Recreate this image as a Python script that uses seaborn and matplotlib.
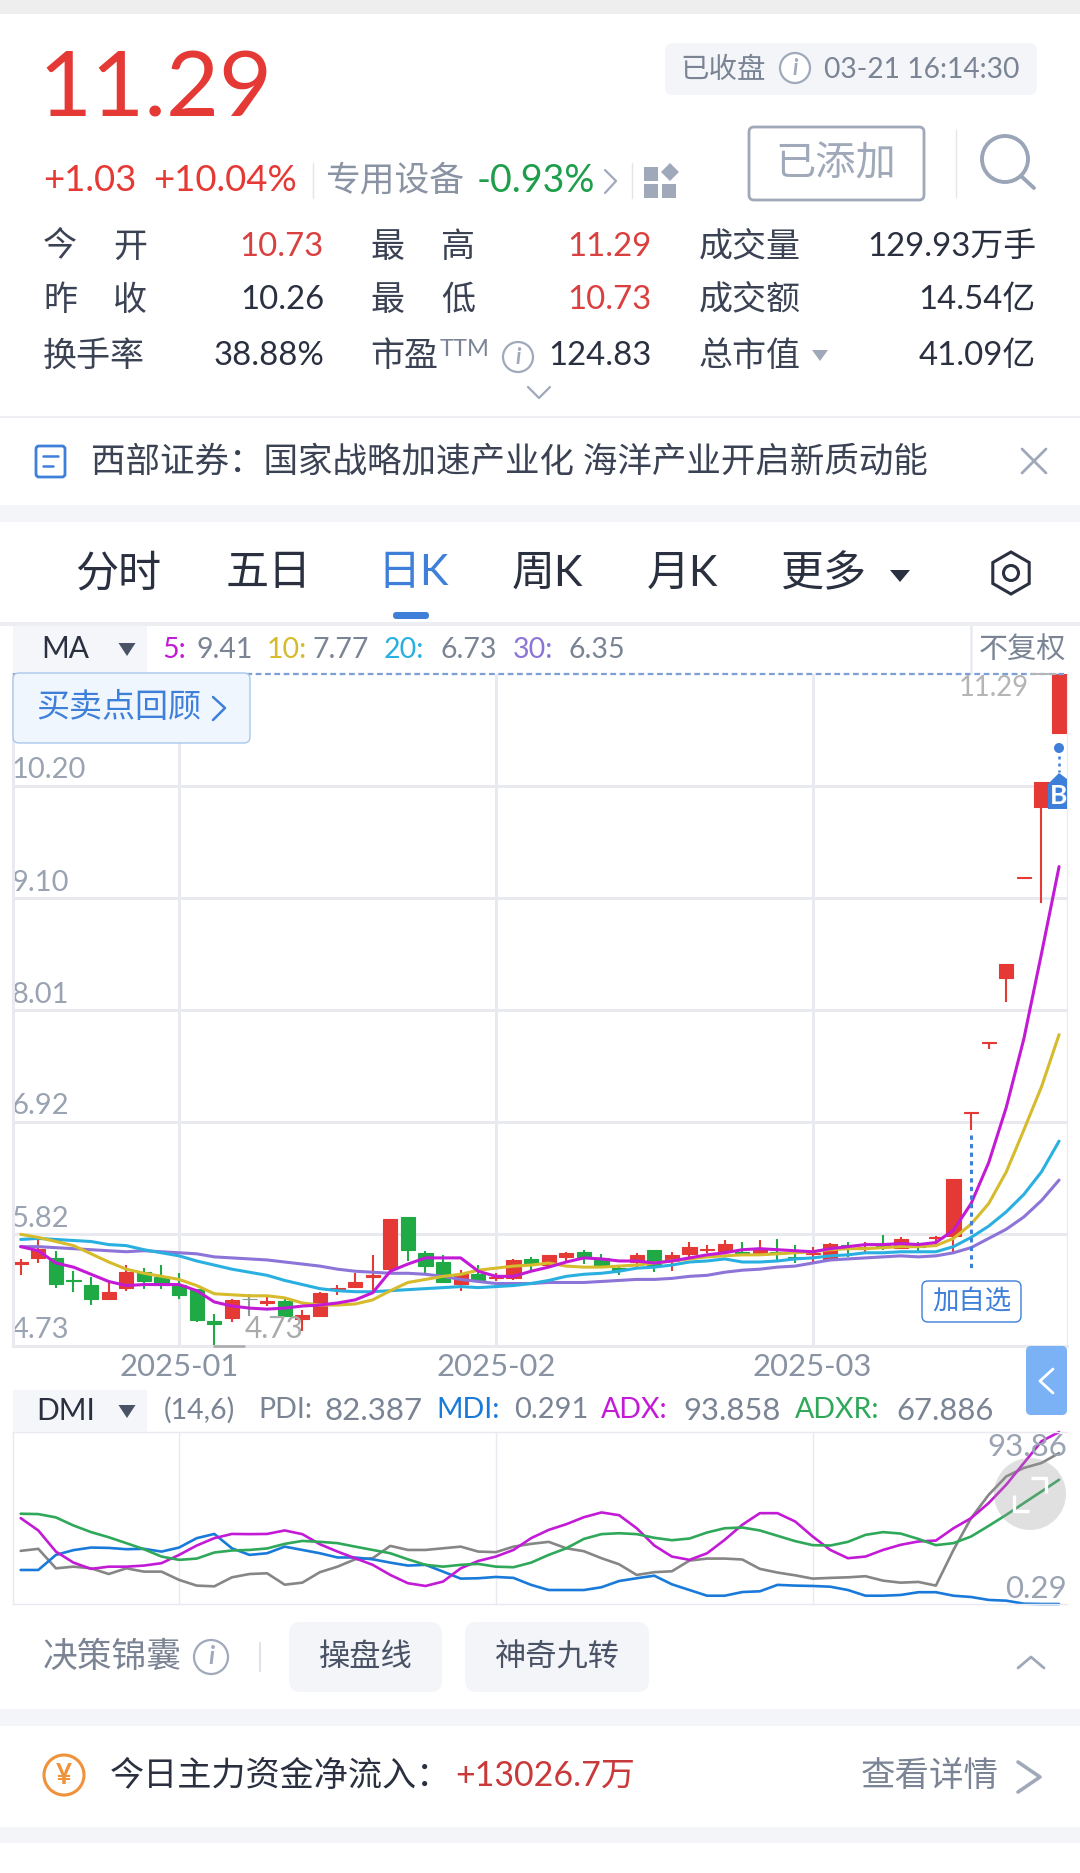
import numpy as np
import pandas as pd
import seaborn as sns
import matplotlib
matplotlib.use("Agg")
import matplotlib.pyplot as plt
from matplotlib.patches import Rectangle, FancyBboxPatch, Polygon, Circle
from matplotlib.transforms import ScaledTranslation

sns.set_theme(style="white")
FONTS = ['Lato', 'Noto Sans CJK SC', 'DejaVu Sans']
plt.rcParams['font.family'] = FONTS

# ---------- data ----------
opens = [5.53,5.59,5.59,5.37,5.33,5.19,5.30,5.45,5.40,5.33,5.29,4.97,5.00,5.19,5.15,5.17,4.99,5.02,5.29,5.31,
         5.40,5.48,5.99,5.64,5.55,5.34,5.43,5.39,5.39,5.58,5.52,5.60,5.65,5.59,5.49,5.55,5.67,5.56,5.63,5.67,
         5.66,5.65,5.63,5.65,5.60,5.63,5.57,5.72,5.69,5.72,5.69,5.71,5.78,5.80,7.00,7.69,8.32,9.30,9.99,10.71]
closes = [5.55,5.68,5.34,5.36,5.19,5.26,5.45,5.36,5.33,5.23,4.98,4.94,5.18,5.19,5.17,5.02,5.03,5.25,5.30,5.35,
          5.42,5.97,5.67,5.51,5.35,5.43,5.37,5.40,5.57,5.53,5.62,5.64,5.60,5.51,5.47,5.62,5.51,5.62,5.70,5.68,
          5.73,5.63,5.67,5.64,5.59,5.64,5.73,5.71,5.70,5.70,5.77,5.70,5.79,6.36,7.01,7.70,8.46,9.31,10.24,11.29]
highs = [5.58,5.76,5.66,5.46,5.40,5.36,5.52,5.49,5.52,5.44,5.29,5.04,5.19,5.24,5.21,5.19,5.08,5.26,5.33,5.44,
         5.62,5.97,5.99,5.66,5.62,5.47,5.52,5.44,5.58,5.60,5.62,5.65,5.67,5.63,5.51,5.64,5.67,5.65,5.75,5.72,
         5.76,5.75,5.76,5.77,5.72,5.70,5.74,5.75,5.75,5.81,5.79,5.75,5.80,6.36,7.01,7.70,8.46,9.31,10.24,11.29]
lows = [5.42,5.54,5.30,5.26,5.13,5.18,5.27,5.29,5.29,5.19,4.96,4.73,4.96,5.02,5.12,5.01,4.88,5.02,5.23,5.30,
        5.27,5.48,5.56,5.44,5.35,5.27,5.37,5.36,5.37,5.47,5.50,5.56,5.53,5.51,5.42,5.50,5.45,5.46,5.60,5.64,
        5.65,5.61,5.63,5.57,5.54,5.55,5.57,5.60,5.65,5.67,5.68,5.65,5.71,5.65,6.84,7.63,8.09,9.30,9.05,10.71]
ma5 = [5.70,5.66,5.54,5.50,5.43,5.36,5.32,5.33,5.33,5.33,5.27,5.16,5.12,5.10,5.09,5.10,5.12,5.13,5.15,5.18,
       5.25,5.46,5.53,5.59,5.59,5.59,5.46,5.41,5.41,5.46,5.50,5.55,5.59,5.58,5.56,5.56,5.54,5.56,5.59,5.62,
       5.64,5.67,5.68,5.67,5.66,5.65,5.68,5.70,5.72,5.72,5.73,5.72,5.74,5.86,6.12,6.52,7.06,7.73,8.56,9.41]
ma10 = [5.82,5.79,5.75,5.71,5.63,5.55,5.48,5.44,5.41,5.38,5.32,5.24,5.23,5.22,5.22,5.20,5.15,5.13,5.13,5.14,
        5.18,5.27,5.35,5.38,5.41,5.43,5.47,5.49,5.51,5.52,5.54,5.51,5.50,5.50,5.51,5.52,5.54,5.56,5.58,5.60,
        5.61,5.62,5.62,5.63,5.64,5.65,5.67,5.68,5.68,5.69,5.70,5.70,5.71,5.78,5.92,6.12,6.43,6.84,7.26,7.77]
ma20 = [5.77,5.78,5.77,5.76,5.75,5.72,5.71,5.67,5.64,5.61,5.56,5.52,5.48,5.45,5.42,5.37,5.33,5.29,5.27,5.26,
        5.26,5.27,5.28,5.29,5.30,5.31,5.30,5.31,5.32,5.34,5.37,5.41,5.43,5.44,5.46,5.49,5.50,5.52,5.55,5.56,
        5.58,5.55,5.55,5.56,5.58,5.59,5.61,5.62,5.64,5.64,5.65,5.65,5.65,5.70,5.79,5.90,6.04,6.21,6.43,6.73]
ma30 = [5.70,5.70,5.69,5.68,5.67,5.66,5.65,5.66,5.65,5.64,5.63,5.60,5.59,5.58,5.57,5.55,5.53,5.51,5.48,5.46,
        5.45,5.44,5.44,5.43,5.41,5.38,5.36,5.34,5.34,5.34,5.35,5.35,5.35,5.36,5.37,5.38,5.38,5.39,5.41,5.42,
        5.45,5.47,5.48,5.50,5.51,5.54,5.57,5.58,5.59,5.60,5.61,5.60,5.61,5.64,5.69,5.78,5.87,5.99,6.15,6.35]
pdi = [29.2,30.3,19.7,20.6,19.7,16.6,19.7,17.9,17.9,13.4,10.3,9.9,14.8,16.6,17.0,10.8,11.9,17.6,20.6,24.6,
       25.2,31.9,29.7,29.7,30.6,31.5,28.8,28.5,31.5,33.0,34.1,30.6,29.0,25.2,21.9,16.1,17.6,18.1,23.9,25.0,
       25.0,24.5,19.4,17.4,15.9,14.1,14.5,14.8,15.4,13.0,11.9,12.3,10.3,29.7,47.0,59.7,69.7,74.3,77.0,82.387]
mdi = [18.8,18.8,27.0,29.6,31.0,30.8,30.1,30.3,28.8,31.0,36.1,38.4,30.6,27.0,27.9,31.5,29.7,27.9,25.6,25.6,
       24.6,22.8,21.2,21.6,17.9,14.1,14.3,15.0,14.5,10.7,7.9,7.9,7.9,9.4,12.8,14.3,15.7,11.0,7.9,4.8,
       4.8,6.8,7.2,10.7,10.3,10.1,9.7,7.9,4.8,4.8,5.2,6.7,6.7,4.8,4.1,2.5,2.1,0.47,0.29,0.291]
adx = [47.0,40.3,28.8,22.8,19.4,20.6,20.6,21.2,22.5,27.0,32.1,36.1,38.4,38.3,38.4,40.3,38.3,32.8,28.8,25.2,
       21.6,16.1,11.6,10.1,12.5,19.7,23.7,26.1,29.7,36.1,40.6,43.7,47.5,50.1,48.6,41.5,32.1,26.1,24.3,27.9,
       35.2,43.4,49.7,49.7,45.2,37.0,29.7,25.2,26.1,29.7,32.5,34.3,34.8,41.5,47.0,55.2,65.2,77.0,88.8,93.858]
adxr = [49.4,49.2,47.4,43.0,39.4,36.6,33.4,30.1,26.1,24.3,25.0,28.3,29.4,29.7,30.5,33.0,34.6,34.1,33.4,31.5,
        29.7,27.9,24.6,21.6,20.6,21.6,22.1,20.6,20.3,22.8,27.0,30.6,35.7,38.3,38.8,38.3,36.3,35.0,35.9,39.2,
        41.5,41.9,40.3,37.4,34.5,32.3,32.1,34.1,37.9,39.4,38.6,35.7,32.3,33.4,37.0,42.8,48.8,55.2,61.5,67.886]
price_ticks = [4.73, 5.82, 6.92, 8.01, 9.10, 10.20]
price_labels = ['4.73', '5.82', '6.92', '8.01', '9.10', '10.20']
month_idx = [9, 27, 45]
month_labels = ['2025-01', '2025-02', '2025-03']

RED, GREEN, FLAT = '#e53935', '#1faa45', '#8f9a94'
MAG, YEL, CYA, PUR = '#c31ad6', '#d6bb2c', '#2ab0e0', '#8c74d8'
BLUE = '#3d7fd9'
DARK, LABEL, GREY, LGREY, GRID = '#2a3040', '#3a4254', '#7a8494', '#a0a9ba', '#e8eaf0'

W, H = 1080, 1873
fig = plt.figure(figsize=(W / 100, H / 100), dpi=100, facecolor='white')

def px_axes(l, t, r, b):
    return fig.add_axes([l / W, 1 - b / H, (r - l) / W, (b - t) / H])

XLIM = (-0.4375, 59.45)

# ---------- candlestick panel ----------
ax = px_axes(13, 674, 1067, 1346)
ax.set_xlim(*XLIM)
ax.set_ylim(4.73, 11.29)
ax.set_xticks(month_idx)
ax.set_xticklabels(month_labels, fontsize=22.3, color='#8a93a3')
ax.set_yticks(price_ticks)
ax.set_yticklabels(price_labels, fontsize=21, color='#9aa3b2')
ax.tick_params(axis='x', length=0, pad=5)
ax.tick_params(axis='y', length=0, pad=0)
lift = ScaledTranslation(-1 / 72, 1.8 / 72, fig.dpi_scale_trans)
for lab in ax.get_yticklabels():
    lab.set_ha('left')
    lab.set_va('bottom')
    lab.set_transform(lab.get_transform() + lift)
ax.grid(True, color=GRID, lw=2.1)
ax.set_axisbelow(True)
for name, sp in ax.spines.items():
    sp.set_color(GRID)
    sp.set_linewidth(2.1 if name in ('left', 'bottom') else 0.8)
ax.spines['top'].set_visible(False)

idx = np.arange(len(opens))
o, c, h, l = map(np.array, (opens, closes, highs, lows))
cols = [RED if cc > oo else (GREEN if cc < oo else FLAT) for oo, cc in zip(o, c)]
ax.vlines(idx, l, h, colors=cols, lw=1.5, zorder=2)
ax.bar(idx, np.abs(c - o), bottom=np.minimum(o, c), width=0.8, color=cols,
       edgecolor=cols, linewidth=0.8, zorder=2.1)

ma_df = pd.DataFrame({'idx': idx, 'MA5': ma5, 'MA10': ma10, 'MA20': ma20, 'MA30': ma30}).melt(
    id_vars='idx', var_name='line', value_name='value')
sns.lineplot(data=ma_df, x='idx', y='value', hue='line', estimator=None, sort=False, legend=False,
             hue_order=['MA30', 'MA20', 'MA10', 'MA5'],
             palette={'MA5': MAG, 'MA10': YEL, 'MA20': CYA, 'MA30': PUR}, lw=2.2, ax=ax, zorder=3)
ax.set_xlabel('')
ax.set_ylabel('')
ax.axhline(11.29, color='#7d9fd8', lw=1.6, ls=(0, (2.6, 1.6)), zorder=4, clip_on=False)

# ---------- DMI panel ----------
ax2 = px_axes(13, 1432, 1067, 1604)
ax2.set_xlim(*XLIM)
ax2.set_ylim(0.29, 93.86)
ax2.set_xticks(month_idx)
ax2.set_yticks([])
ax2.tick_params(axis='x', length=0, labelbottom=False)
ax2.grid(True, axis='x', color=GRID, lw=1)
ax2.set_axisbelow(True)
for name, sp in ax2.spines.items():
    sp.set_color(GRID)
    sp.set_linewidth(1)
ax2.spines['right'].set_visible(False)
dmi_df = pd.DataFrame({'idx': idx, 'PDI': pdi, 'MDI': mdi, 'ADX': adx, 'ADXR': adxr}).melt(
    id_vars='idx', var_name='line', value_name='value')
sns.lineplot(data=dmi_df, x='idx', y='value', hue='line', estimator=None, sort=False, legend=False,
             hue_order=['PDI', 'MDI', 'ADX', 'ADXR'],
             palette={'PDI': '#868686', 'MDI': '#1a7ad9', 'ADX': '#c31ad6', 'ADXR': '#2fa85a'},
             lw=1.9, ax=ax2, clip_on=False)
ax2.set_xlabel('')
ax2.set_ylabel('')

# ---------- page furniture, in pixel coordinates ----------
ui = fig.add_axes([0, 0, 1, 1], zorder=10)
ui.set_xlim(0, W)
ui.set_ylim(H, 0)
ui.axis('off')
ui.patch.set_alpha(0)

def T(x, y, s, size=24.5, color=LABEL, ha='left', **kw):
    return ui.text(x, y + 2.5, s, fontsize=size, color=color, ha=ha, va='center', family=FONTS, **kw)

def rect(x0, y0, x1, y1, fc, **kw):
    ui.add_patch(Rectangle((x0, y0), x1 - x0, y1 - y0, fc=fc, ec='none', **kw))

def rrect(x0, y0, x1, y1, r, fc='none', ec='none', lw=0, **kw):
    ui.add_patch(FancyBboxPatch((x0, y0), x1 - x0, y1 - y0, boxstyle=f'round,pad=0,rounding_size={r}',
                                fc=fc, ec=ec, lw=lw, **kw))

def line(xs, ys, color=LGREY, lw=2.0, **kw):
    ui.plot(xs, ys, color=color, lw=lw, solid_capstyle=kw.pop('cap', 'round'), solid_joinstyle='round', **kw)

def tri(cx, top, bot, hw, color):
    ui.add_patch(Polygon([(cx - hw, top), (cx + hw, top), (cx, bot)], closed=True, fc=color, ec='none'))

def info(cx, cy, r, color=LGREY):
    ui.add_patch(Circle((cx, cy), r, fc='white', ec=color, lw=1.6))
    T(cx, cy - 2.5, 'i', size=r * 1.05, color=color, ha='center', style='italic', weight='bold')

# bands and rules
rect(0, 0, W, 14, '#eeeeee')
rect(0, 416, W, 418, '#eef0f3')
rect(0, 505, W, 522, '#f4f5f8')
rect(0, 622, W, 626, '#eceef1')
rect(0, 1709, W, 1726, '#f4f5f8')
rect(0, 1827, W, 1843, '#f4f5f8')

# header
T(38, 88, '11.29', size=66, color=RED)
T(43, 178, '+1.03', size=26.3, color=RED)
T(153, 178, '+10.04%', size=26.3, color=RED)
line([313, 313], [163, 198], color='#e3e5ea', lw=1)
T(325, 178, '专用设备', size=25, color='#8a93a3')
T(477, 178, '-0.93%', size=27, color='#1e9e4a')
line([605, 616, 605], [170, 181, 193], color=LGREY, lw=1.6)
line([632, 632], [163, 198], color='#e3e5ea', lw=1)
for x0, y0 in [(644, 167), (644, 184), (662, 184)]:
    rect(x0, y0, x0 + 14, y0 + 14, LGREY)
ui.add_patch(Polygon([(670, 163), (679, 172), (670, 181), (661, 172)], closed=True, fc=LGREY, ec='none'))

rrect(665, 43, 1037, 95, 8, fc='#f3f5f9')
T(680, 67, '已收盘', size=20.5, color=GREY)
info(795, 68, 15)
T(824, 67, '03-21 16:14:30', size=20.3, color=GREY)
rrect(749, 127, 924, 200, 5, ec=LGREY, lw=2)
T(836, 161, '已添加', size=29, color=LGREY, ha='center')
line([956, 956], [130, 197], color='#e3e5ea', lw=1)
ui.add_patch(Circle((1005, 159), 23, fc='none', ec='#9aa5b8', lw=2.8))
line([1021, 1034], [176, 188], color='#9aa5b8', lw=2.8)

rows = [244, 297, 353]
T(43, rows[0], '今'); T(113, rows[0], '开')
T(43, rows[1], '昨'); T(113, rows[1], '收')
T(43, rows[2], '换手率')
T(370, rows[0], '最'); T(441, rows[0], '高')
T(370, rows[1], '最'); T(441, rows[1], '低')
T(370, rows[2], '市盈')
T(440, 347, 'TTM', size=17, color=GREY)
info(518, 357, 15)
T(699, rows[0], '成交量'); T(699, rows[1], '成交额'); T(699, rows[2], '总市值')
tri(820, 350, 361, 8, LGREY)
NUM = 23.7
T(324, rows[0], '10.73', NUM, '#d9403f', 'right')
T(324, rows[1], '10.26', NUM, DARK, 'right')
T(324, rows[2], '38.88%', NUM, DARK, 'right')
T(652, rows[0], '11.29', NUM, '#d9403f', 'right')
T(652, rows[1], '10.73', NUM, '#d9403f', 'right')
T(652, rows[2], '124.83', NUM, DARK, 'right')
T(1036, rows[0], '129.93万手', NUM, DARK, 'right')
T(1036, rows[1], '14.54亿', NUM, DARK, 'right')
T(1036, rows[2], '41.09亿', NUM, DARK, 'right')
line([528, 539, 550], [387, 398, 387], color=LGREY, lw=1.6)

# news strip
rrect(36, 446, 65, 477, 3, ec=BLUE, lw=2)
line([43, 58], [456, 456], color=BLUE, lw=1.8)
line([43, 53], [466, 466], color=BLUE, lw=1.8)
T(91, 459, '西部证券：国家战略加速产业化 海洋产业开启新质动能', size=24.85, color=LABEL)
line([1022, 1046], [449, 473], color=LGREY, lw=2)
line([1022, 1046], [473, 449], color=LGREY, lw=2)

# period tabs
for x, s, col in [(75, '分时', DARK), (226, '五日', DARK), (377, '日K', BLUE), (512, '周K', DARK),
                  (647, '月K', DARK), (781, '更多', DARK)]:
    T(x, 571, s, size=31, color=col)
rrect(393, 612, 429, 619, 3.5, fc=BLUE)
tri(900, 570, 582, 10, DARK)
hexa = [(1011 + 21 * np.sin(a), 573 - 21 * np.cos(a)) for a in np.arange(6) * np.pi / 3]
ui.add_patch(Polygon(hexa, closed=True, fc='none', ec=DARK, lw=2.2))
ui.add_patch(Circle((1011, 573), 7.5, fc='none', ec=DARK, lw=2.2))

# MA legend row
rect(13, 626, 147, 673, '#f4f6fa')
T(41, 647, 'MA', size=21.5, color=DARK)
tri(127, 643, 656, 8.5, '#4a5366')
for x, s, col in [(162, '5:', MAG), (197, '9.41', GREY), (267, '10:', YEL), (313, '7.77', GREY),
                  (384, '20:', CYA), (440, '6.73', GREY), (513, '30:', PUR), (568, '6.35', GREY)]:
    T(x, 647, s, size=20.5, color=col)
line([971, 971], [626, 673], color=GRID, lw=1.8)
T(979, 647, '不复权', size=21, color=GREY)

# annotations over the chart
rrect(13, 673, 250, 743, 6, fc='#f0f6fe', ec='#a9c8ee', lw=1)
T(36, 705, '买卖点回顾', size=23.8, color=BLUE)
line([213, 225, 213], [697, 708, 720], color=BLUE, lw=1.8)
T(1029, 685, '11.29', size=19.8, color='#b5b5b5', ha='right')
line([1032, 1056], [674, 674], color='#b5b5b5', lw=1.4)
T(245, 1326, '4.73', size=21.5, color='#aaaaaa')
line([214, 244], [1346, 1346], color='#aaaaaa', lw=1.8)
line([971, 971], [1135, 1269], color=BLUE, lw=2.2, ls=(0, (1.4, 1.4)), cap='butt')
rrect(922, 1281, 1021, 1322, 6, fc='white', ec=BLUE, lw=1)
T(971.5, 1300, '加自选', size=19, color=BLUE, ha='center')
ui.add_patch(Circle((1059, 748), 5, fc=BLUE, ec='none'))
line([1059, 1059], [756, 772], color=BLUE, lw=1.8, ls=(0, (1.2, 1.6)), cap='butt')
ui.add_patch(Polygon([(1048, 784), (1059, 773), (1067, 779), (1067, 809), (1048, 809)], closed=True, fc=BLUE, ec='none'))
T(1050, 793, 'B', size=19, color='white', weight='bold')
ui.add_patch(FancyBboxPatch((1026, 1346), 41, 69, boxstyle='round,pad=0,rounding_size=5', fc='#7ab2f5', ec='none'))
line([1053, 1040, 1053], [1369, 1381, 1393], color='white', lw=2)

# DMI legend row
rect(13, 1390, 147, 1432, '#f4f6fa')
T(36, 1408, 'DMI', size=21.5, color=DARK)
tri(127, 1405, 1418, 8.5, '#4a5366')
for x, s, col, sz in [(164, '(14,6)', GREY, 20.5), (258, 'PDI:', GREY, 20.5), (325, '82.387', GREY, 22.5),
                      (436, 'MDI:', '#1a7ad9', 20.5), (514, '0.291', GREY, 21), (601, 'ADX:', '#c31ad6', 20.5),
                      (683, '93.858', GREY, 22.3), (795, 'ADXR:', '#2fa85a', 20.5), (896, '67.886', GREY, 22.3)]:
    T(x, 1408, s, size=sz, color=col)
T(1067, 1444, '93.86', size=22.5, color='#9aa3b2', ha='right')
T(1067, 1586, '0.29', size=22.5, color='#9aa3b2', ha='right')
ui.add_patch(Circle((1030, 1494), 36, fc='#999999', ec='none', alpha=0.3))
line([1031, 1046, 1046], [1478, 1478, 1493], color='white', lw=2.4, cap='butt')
line([1014, 1014, 1029], [1495, 1511, 1511], color='white', lw=2.4, cap='butt')

# decision row
T(43, 1654, '决策锦囊', size=25, color=GREY)
info(211, 1657, 17)
line([260, 260], [1643, 1671], color='#dfe2e8', lw=1.5)
rrect(289, 1622, 442, 1692, 12, fc='#f3f5f9')
T(365.5, 1654, '操盘线', size=22.5, color='#4a5366', ha='center')
rrect(465, 1622, 649, 1692, 12, fc='#f3f5f9')
T(557, 1654, '神奇九转', size=22.5, color='#4a5366', ha='center')
line([1018, 1031, 1044], [1668, 1657, 1668], color=LGREY, lw=2)

# money flow row
ui.add_patch(Circle((64, 1775), 20, fc='none', ec='#f0923a', lw=2.2))
T(64, 1773, '¥', size=20, color='#f0923a', ha='center', weight='bold')
T(110, 1773, '今日主力资金净流入：', size=24.6, color=DARK)
T(455, 1773, '+13026.7万', size=24.5, color='#c9393a')
T(861, 1773, '查看详情', size=24.8, color=GREY)
line([1018, 1040, 1018], [1762, 1777, 1792], color=LGREY, lw=2.6)

fig.savefig('out.png', dpi=100, facecolor='white')
